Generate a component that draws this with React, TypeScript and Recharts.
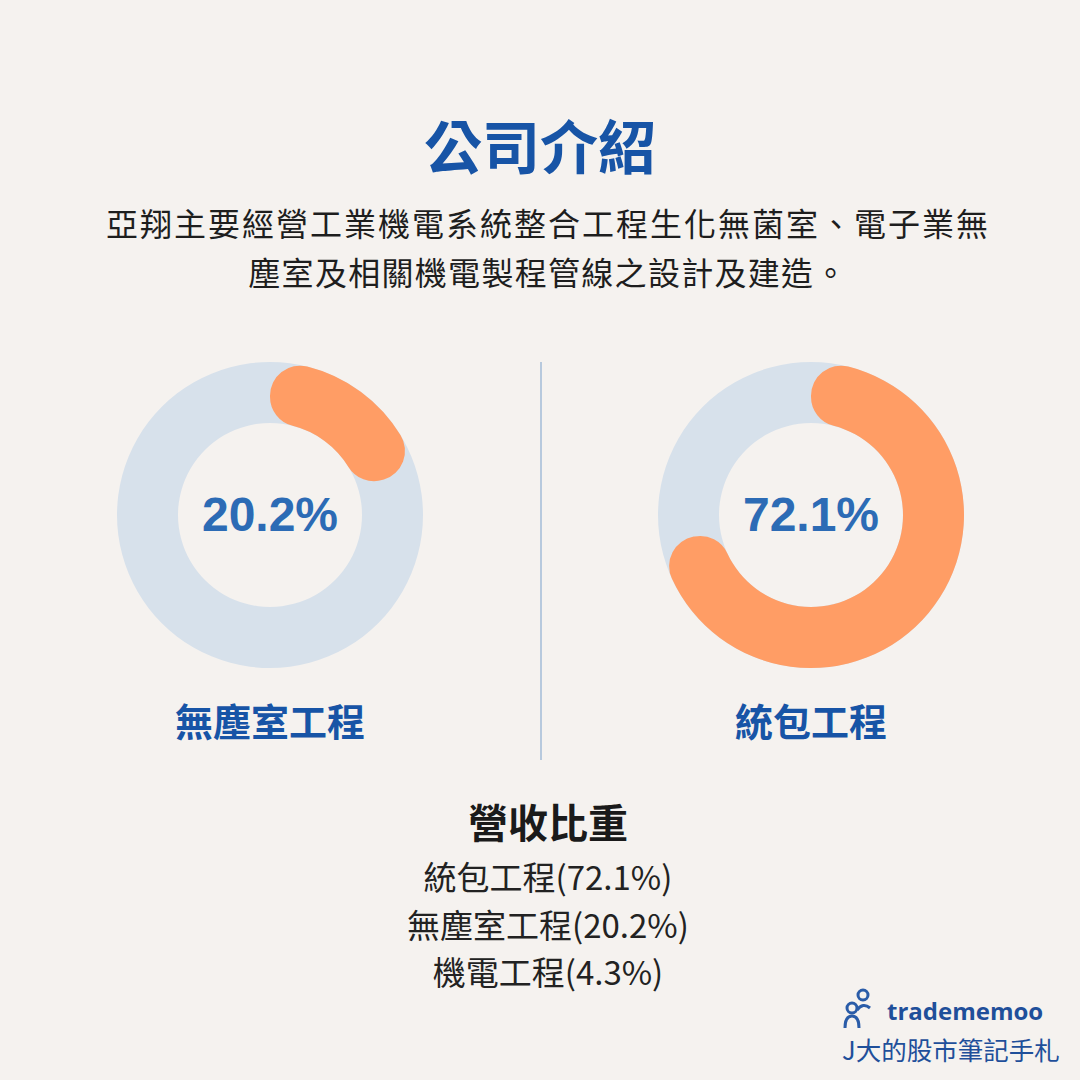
import React from "react";
import { PieChart, Pie, Cell } from "recharts";

const title = "公司介紹";
const introLines = [
  "亞翔主要經營工業機電系統整合工程生化無菌室、電子業無",
  "塵室及相關機電製程管線之設計及建造。",
];
const donutNames = ["無塵室工程", "統包工程"];
const donutValues = [20.2, 72.1];
const shareTitle = "營收比重";
const shareNames = ["統包工程", "無塵室工程", "機電工程"];
const shareValues = [72.1, 20.2, 4.3];

const BG = "#F5F2EF";
const TRACK = "#D7E1EB";
const ORANGE = "#FF9D65";
const BLUE = "#1754A6";
const PCT_BLUE = "#2C6BB5";
const CJK = '"Noto Sans CJK TC", "Noto Sans", sans-serif';

function Donut({ cx, name, value }: { cx: number; name: string; value: number }) {
  const size = 320;
  const data = [
    { name, value },
    { name: "other", value: 100 - value },
  ];
  return (
    <>
      <div style={{ position: "absolute", left: cx - size / 2, top: 515 - size / 2, width: size, height: size }}>
        <PieChart width={size} height={size} margin={{ top: 0, right: 0, bottom: 0, left: 0 }}>
          <Pie
            data={[{ name: "track", value: 100 }]}
            dataKey="value"
            cx={size / 2}
            cy={size / 2}
            innerRadius={92}
            outerRadius={153}
            startAngle={90}
            endAngle={-270}
            stroke="none"
            fill={TRACK}
            isAnimationActive={false}
          />
          <Pie
            data={data}
            dataKey="value"
            cx={size / 2}
            cy={size / 2}
            innerRadius={92}
            outerRadius={153}
            startAngle={90}
            endAngle={-270}
            cornerRadius={30}
            stroke="none"
            isAnimationActive={false}
          >
            <Cell fill={ORANGE} />
            <Cell fill="transparent" />
          </Pie>
        </PieChart>
      </div>
      <div
        style={{
          position: "absolute",
          left: cx - 120,
          width: 240,
          top: 490,
          lineHeight: "50px",
          textAlign: "center",
          fontFamily: '"Liberation Sans", Arial, sans-serif',
          fontWeight: 700,
          fontSize: 48,
          color: PCT_BLUE,
        }}
      >
        {value.toFixed(1)}%
      </div>
      <div
        style={{
          position: "absolute",
          left: cx - 150,
          width: 300,
          top: 697,
          lineHeight: "46px",
          textAlign: "center",
          fontFamily: CJK,
          fontWeight: 700,
          fontSize: 38,
          color: BLUE,
        }}
      >
        {name}
      </div>
    </>
  );
}

export default function App() {
  return (
    <div
      style={{
        position: "absolute",
        left: 0,
        top: 0,
        width: 1080,
        height: 1080,
        background: BG,
        overflow: "hidden",
        fontFamily: CJK,
      }}
    >
      <div
        style={{
          position: "absolute",
          left: 0,
          width: 1080,
          top: 110,
          lineHeight: "68px",
          textAlign: "center",
          fontSize: 58,
          fontWeight: 700,
          color: BLUE,
        }}
      >
        {title}
      </div>
      {introLines.map((line, i) => (
        <div
          key={i}
          style={{
            position: "absolute",
            left: 8,
            width: 1080,
            top: 200 + i * 49,
            lineHeight: "44px",
            textAlign: "center",
            fontSize: 32,
            letterSpacing: i === 0 ? 2 : 1.3,
            color: "#1E1E1E",
          }}
        >
          {line}
        </div>
      ))}

      <div style={{ position: "absolute", left: 540, top: 362, width: 1.5, height: 398, background: "#B7C9DD" }} />

      {donutNames.map((name, i) => (
        <Donut key={name} cx={i === 0 ? 270 : 811} name={name} value={donutValues[i]} />
      ))}

      <div
        style={{
          position: "absolute",
          left: 8,
          width: 1080,
          top: 800,
          lineHeight: "42px",
          textAlign: "center",
          fontSize: 40,
          fontWeight: 700,
          color: "#1A1A1A",
        }}
      >
        {shareTitle}
      </div>
      {shareNames.map((name, i) => (
        <div
          key={name}
          style={{
            position: "absolute",
            left: 8,
            width: 1080,
            top: 858 + i * 47.5,
            lineHeight: "36px",
            textAlign: "center",
            fontSize: 33,
            color: "#222",
          }}
        >
          {name}({shareValues[i]}%)
        </div>
      ))}

      {/* logo */}
      <svg style={{ position: "absolute", left: 843, top: 988 }} width={36} height={44} viewBox="0 0 36 44">
        <circle cx={20} cy={7} r={5} fill="none" stroke="#2A5CA8" strokeWidth={3} />
        <circle cx={9} cy={20} r={5} fill="none" stroke="#2A5CA8" strokeWidth={3} />
        <path d="M2 40 Q2 28 9 28 Q16 28 16 40" fill="none" stroke="#2A5CA8" strokeWidth={3} />
        <path d="M14 22 Q20 14 27 20" fill="none" stroke="#2A5CA8" strokeWidth={3} />
      </svg>
      <div
        style={{
          position: "absolute",
          left: 887,
          top: 995,
          lineHeight: "32px",
          fontFamily: '"Open Sans", "Noto Sans", sans-serif',
          fontWeight: 700,
          fontSize: 24,
          color: "#1F4F9A",
        }}
      >
        tradememoo
      </div>
      <div
        style={{
          position: "absolute",
          left: 842,
          top: 1032,
          lineHeight: "34px",
          fontSize: 25.5,
          color: "#1F4F9A",
        }}
      >
        J大的股市筆記手札
      </div>
    </div>
  );
}
